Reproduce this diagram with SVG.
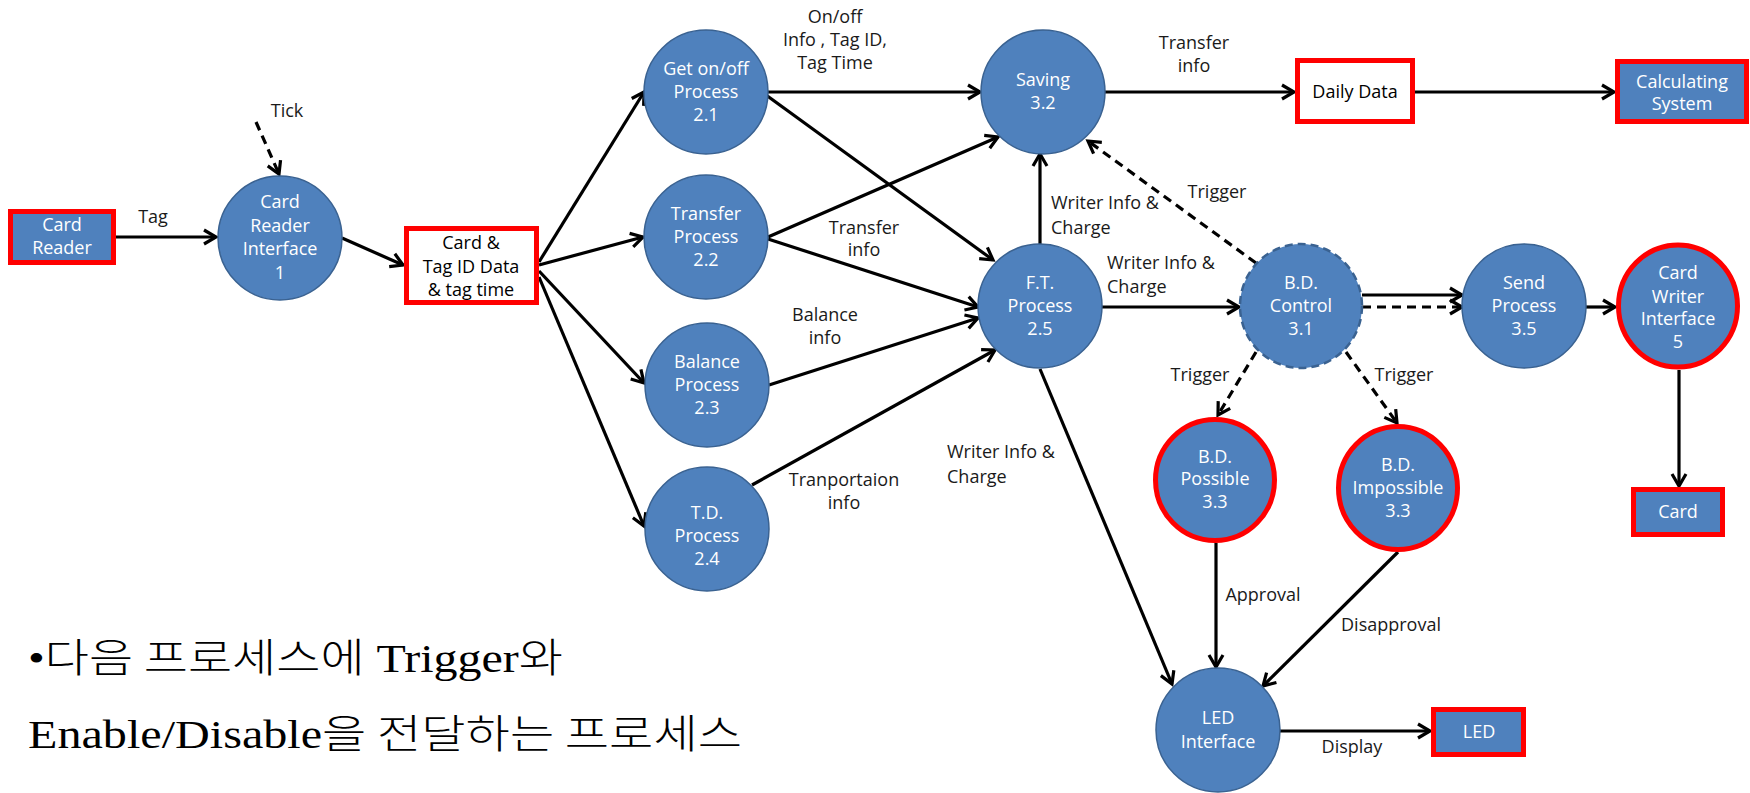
<svg xmlns="http://www.w3.org/2000/svg" width="1750" height="793" viewBox="0 0 1750 793">
<style>
.proc{fill:#4F81BD;stroke:#3A6291;stroke-width:1.5}
.red{fill:#4F81BD;stroke:#FF0000;stroke-width:5}
.store{fill:#FFFFFF;stroke:#FF0000;stroke-width:5}
.dashc{fill:#4F81BD;stroke:#3A6291;stroke-width:2.5;stroke-dasharray:8 5}
.nt{font-family:"Open Sans","Noto Sans",sans-serif;font-size:18px;fill:#FFFFFF;text-anchor:middle}
.bt{font-family:"Open Sans","Noto Sans",sans-serif;font-size:18px;fill:#000000;text-anchor:middle}
.lb{font-family:"Open Sans","Noto Sans",sans-serif;font-size:18px;fill:#1a1a1a;text-anchor:middle}
.lbl{font-family:"Open Sans","Noto Sans",sans-serif;font-size:18px;fill:#1a1a1a;text-anchor:start}
.e{stroke:#000;stroke-width:3.2;fill:none;marker-end:url(#ah)}
.d{stroke:#000;stroke-width:3.2;fill:none;stroke-dasharray:9 6;marker-end:url(#ah)}
.kr{font-family:"Liberation Serif","Noto Sans CJK KR",serif;font-size:40px;font-weight:normal;fill:#000}
.ko{font-family:"Noto Sans CJK KR","Liberation Serif",sans-serif;font-weight:300}
</style>
<defs>
<marker id="ah" markerUnits="userSpaceOnUse" markerWidth="30" markerHeight="30" viewBox="-15 -15 30 30" refX="0" refY="0" orient="auto" overflow="visible">
<path d="M -12 -7 L 0 0 L -12 7" fill="none" stroke="#000" stroke-width="3.2" stroke-linejoin="miter"/>
</marker>
</defs>
<rect width="1750" height="793" fill="#FFFFFF"/>

<g id="connectors">
<line class="e" x1="116" y1="237" x2="216" y2="237"/>
<line class="d" x1="256" y1="122" x2="279" y2="174"/>
<line class="e" x1="342" y1="238" x2="403" y2="265"/>
<line class="e" x1="539" y1="262" x2="644" y2="92"/>
<line class="e" x1="539" y1="265" x2="643" y2="237"/>
<line class="e" x1="539" y1="271" x2="644" y2="383"/>
<line class="e" x1="539" y1="277" x2="644" y2="526"/>
<line class="e" x1="768" y1="92" x2="980" y2="92"/>
<line class="e" x1="766" y1="95" x2="993" y2="260"/>
<line class="e" x1="768" y1="237" x2="998" y2="137"/>
<line class="e" x1="768" y1="239" x2="978" y2="307"/>
<line class="e" x1="769" y1="385" x2="978" y2="318"/>
<line class="e" x1="752" y1="485" x2="995" y2="350"/>
<line class="e" x1="1040" y1="244" x2="1040" y2="154"/>
<line class="e" x1="1105" y1="92" x2="1294" y2="92"/>
<line class="e" x1="1415" y1="92" x2="1614" y2="92"/>
<line class="d" x1="1256" y1="263" x2="1088" y2="141"/>
<line class="e" x1="1102" y1="307" x2="1239" y2="307"/>
<line class="e" x1="1362" y1="295" x2="1462" y2="295"/>
<line class="d" x1="1362" y1="307" x2="1462" y2="307"/>
<line class="e" x1="1586" y1="307" x2="1615" y2="307"/>
<line class="e" x1="1679" y1="370" x2="1679" y2="486"/>
<line class="d" x1="1256" y1="352" x2="1218" y2="415"/>
<line class="d" x1="1346" y1="352" x2="1397" y2="423"/>
<line class="e" x1="1216" y1="543" x2="1216" y2="667"/>
<line class="e" x1="1398" y1="552" x2="1263" y2="686"/>
<line class="e" x1="1040" y1="369" x2="1172" y2="684"/>
<line class="e" x1="1280" y1="731" x2="1430" y2="731"/>
</g>

<g id="edge-labels">
<text class="lb" x="153" y="223">Tag</text>
<text class="lb" x="287" y="117">Tick</text>
<text class="lb" x="835" y="23">On/off</text>
<text class="lb" x="835" y="46">Info , Tag ID,</text>
<text class="lb" x="835" y="69">Tag Time</text>
<text class="lb" x="864" y="234">Transfer</text>
<text class="lb" x="864" y="256">info</text>
<text class="lb" x="825" y="321">Balance</text>
<text class="lb" x="825" y="344">info</text>
<text class="lb" x="844" y="486">Tranportaion</text>
<text class="lb" x="844" y="509">info</text>
<text class="lbl" x="947" y="458">Writer Info &amp;</text>
<text class="lbl" x="947" y="483">Charge</text>
<text class="lbl" x="1051" y="209">Writer Info &amp;</text>
<text class="lbl" x="1051" y="234">Charge</text>
<text class="lbl" x="1107" y="269">Writer Info &amp;</text>
<text class="lbl" x="1107" y="293">Charge</text>
<text class="lb" x="1194" y="49">Transfer</text>
<text class="lb" x="1194" y="72">info</text>
<text class="lb" x="1217" y="198">Trigger</text>
<text class="lb" x="1200" y="381">Trigger</text>
<text class="lb" x="1404" y="381">Trigger</text>
<text class="lb" x="1263" y="601">Approval</text>
<text class="lb" x="1391" y="631">Disapproval</text>
<text class="lb" x="1352" y="753">Display</text>
</g>

<g id="card-reader">
<rect class="red" x="10.5" y="211.5" width="103" height="51"/>
<text class="nt" x="62" y="231">Card</text>
<text class="nt" x="62" y="254">Reader</text>
</g>
<g id="card-reader-interface">
<ellipse class="proc" cx="280" cy="238" rx="62" ry="62"/>
<text class="nt" x="280" y="208">Card</text>
<text class="nt" x="280" y="232">Reader</text>
<text class="nt" x="280" y="255">Interface</text>
<text class="nt" x="280" y="279">1</text>
</g>
<g id="card-tag-data">
<rect class="store" x="406.5" y="228.5" width="130" height="74"/>
<text class="bt" x="471" y="249">Card &amp;</text>
<text class="bt" x="471" y="273">Tag ID Data</text>
<text class="bt" x="471" y="296">&amp; tag time</text>
</g>
<g id="p21">
<ellipse class="proc" cx="706" cy="92" rx="62" ry="62"/>
<text class="nt" x="706" y="75">Get on/off</text>
<text class="nt" x="706" y="98">Process</text>
<text class="nt" x="706" y="121">2.1</text>
</g>
<g id="p22">
<ellipse class="proc" cx="706" cy="237" rx="62" ry="62"/>
<text class="nt" x="706" y="220">Transfer</text>
<text class="nt" x="706" y="243">Process</text>
<text class="nt" x="706" y="266">2.2</text>
</g>
<g id="p23">
<ellipse class="proc" cx="707" cy="385" rx="62" ry="62"/>
<text class="nt" x="707" y="368">Balance</text>
<text class="nt" x="707" y="391">Process</text>
<text class="nt" x="707" y="414">2.3</text>
</g>
<g id="p24">
<ellipse class="proc" cx="707" cy="529" rx="62" ry="62"/>
<text class="nt" x="707" y="519">T.D.</text>
<text class="nt" x="707" y="542">Process</text>
<text class="nt" x="707" y="565">2.4</text>
</g>
<g id="p32">
<ellipse class="proc" cx="1043" cy="92" rx="62" ry="62"/>
<text class="nt" x="1043" y="86">Saving</text>
<text class="nt" x="1043" y="109">3.2</text>
</g>
<g id="p25">
<ellipse class="proc" cx="1040" cy="306" rx="62" ry="62"/>
<text class="nt" x="1040" y="289">F.T.</text>
<text class="nt" x="1040" y="312">Process</text>
<text class="nt" x="1040" y="335">2.5</text>
</g>
<g id="daily-data">
<rect class="store" x="1297.5" y="60.5" width="115" height="61"/>
<text class="bt" x="1355" y="98">Daily Data</text>
</g>
<g id="calculating-system">
<rect class="red" x="1617.5" y="61.5" width="129" height="60"/>
<text class="nt" x="1682" y="88">Calculating</text>
<text class="nt" x="1682" y="110">System</text>
</g>
<g id="p31">
<ellipse class="dashc" cx="1301" cy="306" rx="61" ry="62"/>
<text class="nt" x="1301" y="289">B.D.</text>
<text class="nt" x="1301" y="312">Control</text>
<text class="nt" x="1301" y="335">3.1</text>
</g>
<g id="p35">
<ellipse class="proc" cx="1524" cy="306" rx="62" ry="62"/>
<text class="nt" x="1524" y="289">Send</text>
<text class="nt" x="1524" y="312">Process</text>
<text class="nt" x="1524" y="335">3.5</text>
</g>
<g id="card-writer-interface">
<ellipse class="red" cx="1678" cy="306" rx="59.5" ry="61"/>
<text class="nt" x="1678" y="279">Card</text>
<text class="nt" x="1678" y="303">Writer</text>
<text class="nt" x="1678" y="325">Interface</text>
<text class="nt" x="1678" y="348">5</text>
</g>
<g id="card">
<rect class="red" x="1633.5" y="489.5" width="89" height="45"/>
<text class="nt" x="1678" y="518">Card</text>
</g>
<g id="bd-possible">
<ellipse class="red" cx="1215" cy="480" rx="59.5" ry="60.5"/>
<text class="nt" x="1215" y="463">B.D.</text>
<text class="nt" x="1215" y="485">Possible</text>
<text class="nt" x="1215" y="508">3.3</text>
</g>
<g id="bd-impossible">
<ellipse class="red" cx="1398" cy="488" rx="59.5" ry="61.5"/>
<text class="nt" x="1398" y="471">B.D.</text>
<text class="nt" x="1398" y="494">Impossible</text>
<text class="nt" x="1398" y="517">3.3</text>
</g>
<g id="led-interface">
<ellipse class="proc" cx="1218" cy="730" rx="62" ry="62"/>
<text class="nt" x="1218" y="724">LED</text>
<text class="nt" x="1218" y="748">Interface</text>
</g>
<g id="led">
<rect class="red" x="1433.5" y="709.5" width="90" height="45"/>
<text class="nt" x="1479" y="738">LED</text>
</g>

<g id="note">
<text class="kr" x="28" y="672" textLength="535" lengthAdjust="spacingAndGlyphs">•<tspan class="ko">다음 프로세스에</tspan> Trigger<tspan class="ko">와</tspan></text>
<text class="kr" x="28" y="748" textLength="714" lengthAdjust="spacingAndGlyphs">Enable/Disable<tspan class="ko">을 전달하는 프로세스</tspan></text>
</g>
</svg>
